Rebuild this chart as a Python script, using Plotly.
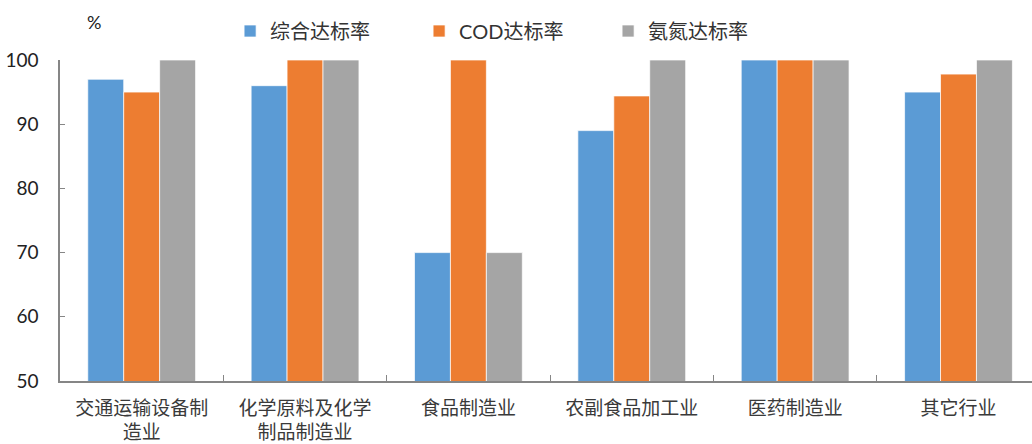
import plotly.graph_objects as go

# Industry categories (x axis) and compliance rates (%)
categories = ["交通运输设备制<br>造业", "化学原料及化学<br>制品制造业", "食品制造业",
              "农副食品加工业", "医药制造业", "其它行业"]
series_names = ["综合达标率", "COD达标率", "氨氮达标率"]
overall_rate = [97, 96, 70, 89, 100, 95]
cod_rate = [95, 100, 100, 94.4, 100, 97.8]
ammonia_rate = [100, 100, 70, 100, 100, 100]
y_ticks = [50, 60, 70, 80, 90, 100]

colors = ["#5B9BD5", "#ED7D31", "#A5A5A5"]
font_family = "Lato, 'Noto Sans CJK SC', sans-serif"
cjk_family = "'Noto Sans CJK SC', sans-serif"

fig = go.Figure()
for name, vals, col in zip(series_names, [overall_rate, cod_rate, ammonia_rate], colors):
    fig.add_trace(go.Bar(
        x=categories, y=vals, name=name,
        marker=dict(color=col, line=dict(color="rgba(255,255,255,0.7)", width=1)),
    ))

axis_color = "#868686"
fig.update_layout(
    width=1032, height=444,
    margin=dict(l=60, r=0, t=60, b=63),
    paper_bgcolor="white", plot_bgcolor="white",
    barmode="group", bargap=0.34, bargroupgap=0,
    font=dict(family=font_family, color="#222222"),
    showlegend=True,
    legend=dict(
        orientation="h", x=0.175, y=(380 - 30) / 321, yanchor="middle", xanchor="left",
        yref="paper", font=dict(family=font_family, size=20, color="#333333"),
        entrywidth=144, itemwidth=30, bgcolor="rgba(0,0,0,0)",
        tracegroupgap=0,
    ),
    xaxis=dict(
        range=[-0.5, 5.45], showline=True, linecolor=axis_color, linewidth=1.5,
        ticks="inside", ticklen=6, tickcolor=axis_color, tickson="boundaries",
        tickfont=dict(family=cjk_family, size=19, color="#3a3a3a"),
        showgrid=False, zeroline=False, ticklabelstandoff=9,
    ),
    yaxis=dict(
        range=[50, 100], tickvals=y_ticks, showline=True, linecolor=axis_color,
        linewidth=1.5, ticks="inside", ticklen=5, tickcolor=axis_color,
        tickfont=dict(family=font_family, size=19, color="#222222"),
        showgrid=False, zeroline=False, ticklabelstandoff=16,
    ),
    annotations=[dict(
        text="%", x=(94 - 60) / 972, y=(380 - 21) / 321, xref="paper", yref="paper",
        showarrow=False, xanchor="center", yanchor="middle",
        font=dict(family=font_family, size=18, color="#222222"),
    )],
)

fig.write_html("out.html")
